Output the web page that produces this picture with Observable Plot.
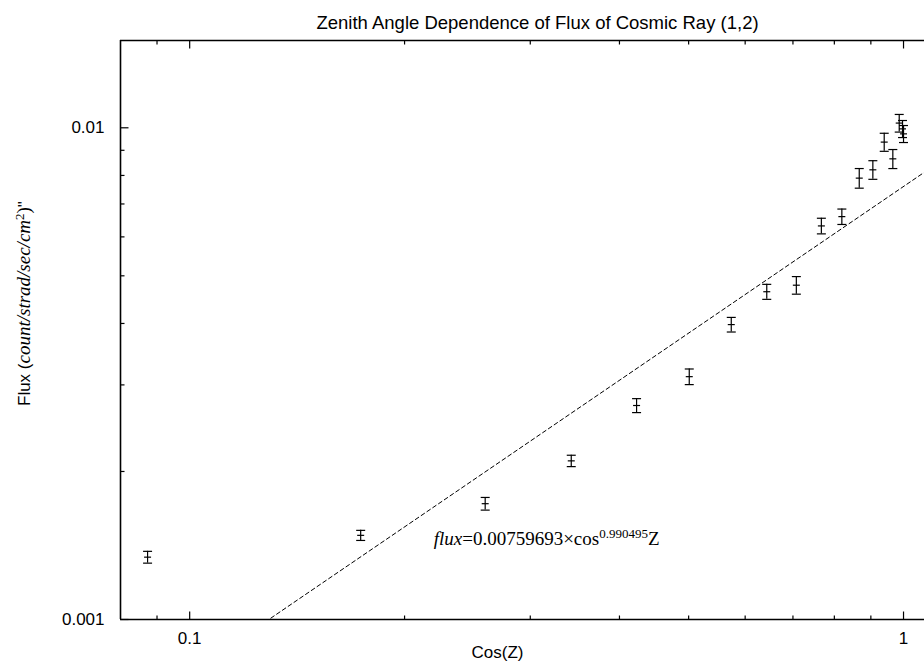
<!DOCTYPE html>
<html><head><meta charset="utf-8">
<script src="https://cdn.jsdelivr.net/npm/d3@7"></script>
<script src="https://cdn.jsdelivr.net/npm/@observablehq/plot@0.6"></script>
<style>
html,body{margin:0;padding:0;background:#fff}
#chart{width:924px;height:669px;overflow:hidden}
</style>
</head><body><div id="chart"></div>
<script>
// ---- data ----
const cosZ    = [0.0873, 0.1736, 0.2594, 0.3424, 0.4227, 0.5010, 0.5737, 0.6433, 0.7077, 0.7672, 0.8196, 0.8669, 0.9058, 0.9396, 0.9661, 0.9862, 0.9968, 1.0];
const flux    = [0.001339, 0.001483, 0.00172, 0.002102, 0.002724, 0.003118, 0.003979, 0.004641, 0.004785, 0.006316, 0.006597, 0.0079, 0.008214, 0.009352, 0.008647, 0.010223, 0.00995, 0.00972];
const fluxErr = [0.000037, 0.000035, 0.000051, 0.000056, 0.000089, 0.000114, 0.000136, 0.000163, 0.000197, 0.000231, 0.000238, 0.000363, 0.000358, 0.000395, 0.000385, 0.000422, 0.000397, 0.000387];
const fitCoef = 0.00759693;
const fitExp  = 0.990495;
const xDomain = [0.08, 1.07];
const yDomain = [0.001, 0.01505];
const xTicksMajor = [0.1, 1];
const xTicksMinor = [0.09, 0.2, 0.3, 0.4, 0.5, 0.6, 0.7, 0.8, 0.9];
const yTicksMajor = [0.001, 0.01];
const yTicksMinor = [0.002, 0.003, 0.004, 0.005, 0.006, 0.007, 0.008, 0.009];
const titleText = "Zenith Angle Dependence of Flux of Cosmic Ray (1,2)";
const xLabelText = "Cos(Z)";
const yLabelText = "Flux (count/strad/sec/cm2)\"";
const fitText = "flux=0.00759693×cos0.990495Z";
const fitLabelPos = {x: 0.2197, y: 0.00146};

// ---- derived tables ----
const points = cosZ.map((x, i) => ({x, y: flux[i], lo: flux[i] - fluxErr[i], hi: flux[i] + fluxErr[i]}));
const fitLine = xDomain.map(x => ({x, y: fitCoef * Math.pow(x, fitExp)}));

const SANS = "'Liberation Sans', Arial, Helvetica, sans-serif";
const SERIF = "'Liberation Serif', 'Times New Roman', Times, serif";

const sym = (dx, dy, both) => ({draw(ctx, size) {
  const r = Math.sqrt(size / Math.PI);
  if (both) { ctx.moveTo(-r, 0); ctx.lineTo(r, 0); }
  else { ctx.moveTo(0, 0); ctx.lineTo(dx * r, dy * r); }
}});
const capSym = sym(0, 0, true);
const tUp = sym(0, -1), tDown = sym(0, 1), tRight = sym(1, 0);

const tickDot = (vals, axis, symbol, len) => Plot.dot(
  vals.map(v => axis === "x-bottom" ? {x: v, y: yDomain[0]} : axis === "x-top" ? {x: v, y: yDomain[1]} : {x: xDomain[0], y: v}),
  {x: "x", y: "y", symbol, r: len, fill: "none", stroke: "black", strokeWidth: 1.2}
);

const chart = Plot.plot({
  width: 924, height: 669,
  marginLeft: 120, marginRight: 0, marginTop: 40, marginBottom: 50,
  style: {fontFamily: SANS, fontSize: "17px", background: "white", color: "black"},
  x: {type: "log", domain: xDomain, label: null},
  y: {type: "log", domain: yDomain, label: null},
  marks: [
    Plot.line(fitLine, {x: "x", y: "y", stroke: "black", strokeWidth: 1, strokeDasharray: "4,3", clip: true}),
    Plot.ruleX(points, {x: "x", y1: "lo", y2: "hi", stroke: "black", strokeWidth: 1.2}),
    Plot.dot(points, {x: "x", y: "lo", symbol: capSym, r: 4.5, fill: "none", stroke: "black", strokeWidth: 1.2}),
    Plot.dot(points, {x: "x", y: "hi", symbol: capSym, r: 4.5, fill: "none", stroke: "black", strokeWidth: 1.2}),
    Plot.dot(points, {x: "x", y: "y", symbol: capSym, r: 3.5, fill: "none", stroke: "black", strokeWidth: 1.2}),
    // frame (left, bottom, top)
    Plot.ruleX([xDomain[0]], {stroke: "black", strokeWidth: 1.6}),
    Plot.ruleY([yDomain[0]], {stroke: "black", strokeWidth: 1.6}),
    Plot.ruleY([yDomain[1]], {stroke: "black", strokeWidth: 1.6}),
    // inward ticks
    tickDot(xTicksMajor, "x-bottom", tUp, 8),
    tickDot(xTicksMinor, "x-bottom", tUp, 4),
    tickDot(xTicksMajor, "x-top", tDown, 8),
    tickDot(xTicksMinor, "x-top", tDown, 4),
    tickDot(yTicksMajor, "y-left", tRight, 8),
    tickDot(yTicksMinor, "y-left", tRight, 4),
    Plot.axisX(xTicksMajor, {tickSize: 0, tickPadding: 12, tickFormat: d => String(d), label: null, fontSize: 17}),
    Plot.axisY(yTicksMajor, {tickSize: 0, tickPadding: 16, tickFormat: d => String(d), label: null, fontSize: 17}),
    Plot.text([titleText], {frameAnchor: "top", dx: 15, dy: -25, fontSize: 18.5}),
    Plot.text([xLabelText], {frameAnchor: "bottom", dx: -25, dy: 38, fontSize: 17}),
    Plot.text([yLabelText], {frameAnchor: "left", dx: -96, dy: 76, rotate: -90, textAnchor: "start", fontSize: 17}),
    Plot.text([fitText], {x: () => fitLabelPos.x, y: () => fitLabelPos.y, textAnchor: "start", lineAnchor: "middle", fontSize: 19, fontFamily: SERIF})
  ]
});
document.getElementById("chart").appendChild(chart);

// rich text for y label and fit label
const svg = d3.select(chart);
svg.selectAll("text").filter(function() { return this.textContent === yLabelText; }).each(function() {
  const t = d3.select(this).text(null);
  t.append("tspan").text("Flux (");
  t.append("tspan").attr("font-family", SERIF).attr("font-style", "italic").attr("font-size", 19).text("count/strad/sec/cm");
  t.append("tspan").attr("font-family", SERIF).attr("font-size", 13).attr("dy", "-0.45em").text("2");
  t.append("tspan").attr("font-family", SERIF).attr("font-size", 19).attr("dy", "0.3em").text(")");
  t.append("tspan").text("\"");
});
svg.selectAll("text").filter(function() { return this.textContent === fitText; }).each(function() {
  const t = d3.select(this).text(null);
  t.append("tspan").attr("font-style", "italic").text("flux");
  t.append("tspan").text("=0.00759693×cos");
  t.append("tspan").attr("font-size", 13).attr("dy", "-0.5em").text("0.990495");
  t.append("tspan").attr("font-size", 19).attr("dy", "0.33em").text("Z");
});
</script>
</body></html>
